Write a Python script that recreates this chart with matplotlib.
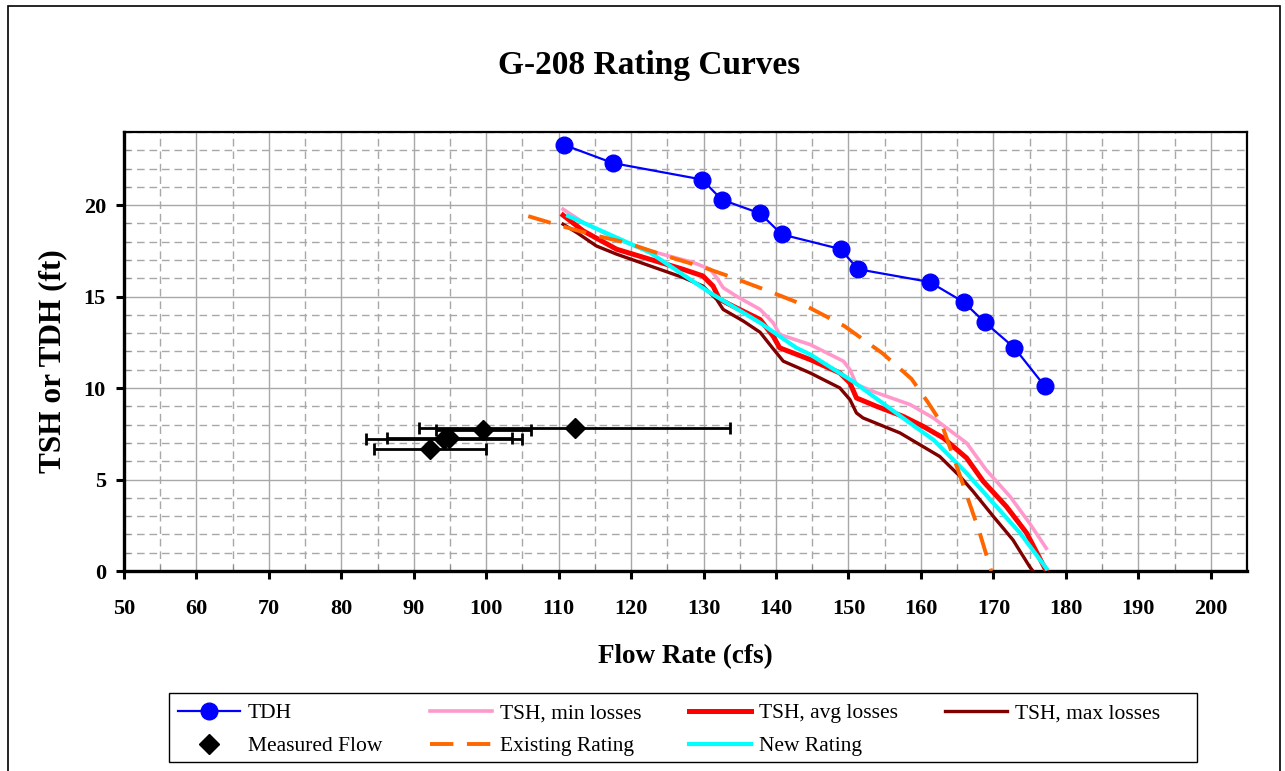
import matplotlib
matplotlib.use("Agg")
import matplotlib.pyplot as plt
from matplotlib.patches import Rectangle
from matplotlib.ticker import MultipleLocator

# TDH (pump total dynamic head), circles
tdh_flow = [110.7, 117.5, 129.8, 132.5, 137.8, 140.8, 148.9, 151.3, 161.2, 165.9, 168.8, 172.9, 177.1]
tdh_head = [23.3, 22.3, 21.4, 20.3, 19.55, 18.4, 17.6, 16.5, 15.8, 14.7, 13.6, 12.2, 10.1]

# TSH curves
min_flow = [110.6, 113.4, 118.0, 122.6, 128.6, 130.9, 131.8, 132.7, 134.5, 137.8, 139.6, 140.5,
            144.7, 149.3, 150.2, 151.1, 153.9, 158.5, 161.7, 166.3, 169.0, 172.3, 175.0, 177.3]
min_head = [19.78, 19.05, 18.14, 17.5, 16.86, 16.5, 16.04, 15.49, 15.03, 14.3, 13.57, 12.93,
            12.38, 11.47, 11.01, 10.19, 9.74, 9.1, 8.37, 7.0, 5.53, 4.07, 2.61, 1.24]

avg_flow = [110.6, 113.4, 118.0, 122.6, 127.2, 129.9, 131.3, 132.2, 134.5, 137.8, 139.6, 140.5,
            144.7, 148.8, 150.2, 151.1, 153.9, 157.5, 160.3, 163.1, 166.3, 168.6, 171.8, 174.6, 177.3]
avg_head = [19.45, 18.59, 17.59, 17.04, 16.49, 16.13, 15.58, 14.85, 14.39, 13.75, 12.84, 12.2,
            11.56, 10.83, 10.28, 9.46, 9.0, 8.46, 7.91, 7.27, 6.18, 4.9, 3.52, 2.07, 0.0]

max_flow = [110.6, 112.5, 115.2, 118.0, 122.6, 127.2, 129.9, 131.8, 132.7, 135.5, 137.8, 139.6,
            141.0, 144.7, 148.8, 150.2, 151.1, 152.0, 157.1, 162.6, 165.4, 167.2, 170.0, 172.7,
            175.0, 176.0]
max_head = [18.96, 18.5, 17.77, 17.32, 16.68, 16.04, 15.58, 14.85, 14.3, 13.66, 13.05, 12.15,
            11.47, 10.83, 10.01, 9.37, 8.64, 8.37, 7.55, 6.26, 5.17, 4.35, 2.98, 1.7,
            0.24, -0.3]

new_flow = [111.3, 122.6, 130.9, 137.8, 142.8, 144.7, 150.6, 157.5, 161.7, 166.3, 170.0, 173.7, 177.3]
new_head = [19.41, 17.41, 15.21, 13.57, 12.2, 11.84, 10.37, 8.37, 7.18, 5.35, 3.71, 2.07, 0.15]

exist_flow = [105.8, 110.0, 115.0, 119.3, 125.0, 130.0, 133.6, 139.0, 144.1, 149.4, 154.7,
              158.7, 161.0, 162.8, 165.4, 168.1, 169.7]
exist_head = [19.4, 18.9, 18.35, 17.95, 17.2, 16.6, 16.1, 15.3, 14.5, 13.4, 11.9,
              10.5, 9.2, 8.1, 5.2, 2.1, 0.0]

# measured flows with uncertainty
meas_flow = [99.6, 112.2, 94.2, 94.9, 92.2]
meas_head = [7.73, 7.82, 7.2, 7.25, 6.68]
meas_err = [6.6, 21.5, 10.8, 8.65, 7.7]

plt.rcParams["font.family"] = ["Liberation Serif", "DejaVu Serif"]

fig = plt.figure(figsize=(12.85, 7.71), dpi=100)
ax = fig.add_axes([0.0965, 0.2594, 0.8739, 0.5694])

ax.plot(tdh_flow, tdh_head, "-o", color="#0000FF", lw=1.6, ms=12, label="TDH", zorder=6)
ax.errorbar(meas_flow, meas_head, xerr=meas_err, fmt="none", ecolor="black",
            elinewidth=2, capsize=4, capthick=2, zorder=6)
ax.plot(meas_flow, meas_head, "D", color="black", ms=10.5, ls="none", label="Measured Flow", zorder=7)
ax.plot(min_flow, min_head, color="#FF99CC", lw=2.6, label="TSH, min losses", zorder=3)
ax.plot(exist_flow, exist_head, color="#FF6600", lw=2.8, dashes=(6, 3.5),
        label="Existing Rating", zorder=5)
ax.plot(avg_flow, avg_head, color="#FF0000", lw=3.6, label="TSH, avg losses", zorder=3)
ax.plot(new_flow, new_head, color="#00FFFF", lw=3.0, label="New Rating", zorder=4)
ax.plot(max_flow, max_head, color="#800000", lw=2.4, label="TSH, max losses", zorder=3)

ax.set_xlim(50, 205)
ax.set_ylim(0, 24)
ax.xaxis.set_major_locator(MultipleLocator(10))
ax.xaxis.set_minor_locator(MultipleLocator(5))
ax.yaxis.set_major_locator(MultipleLocator(5))
ax.yaxis.set_minor_locator(MultipleLocator(1))
ax.set_xticks(range(50, 201, 10))

ax.grid(which="major", color="#a8a8a8", lw=1.0, ls="-")
ax.grid(which="minor", color="#a8a8a8", lw=1.0, ls=(0, (5.5, 3.5)))
ax.set_axisbelow(True)

ax.tick_params(which="major", direction="out", length=6, width=2.2, labelsize=16)
ax.tick_params(axis="x", which="major", pad=14)
ax.tick_params(axis="y", which="major", pad=7)
ax.tick_params(which="minor", direction="in", length=4, width=0.8, color="#888888")
for lab in ax.get_xticklabels() + ax.get_yticklabels():
    lab.set_fontweight("bold")

for side in ["left", "bottom"]:
    ax.spines[side].set_linewidth(2.4)
for side in ["top", "right"]:
    ax.spines[side].set_linewidth(1.6)

ax.set_xlabel("Flow Rate (cfs)", fontsize=19.5, fontweight="bold", labelpad=18)
ax.set_ylabel("TSH or TDH (ft)", fontsize=22.5, fontweight="bold")
ax.yaxis.set_label_coords(-0.051, 0.478)

fig.text(0.505, 0.915, "G-208 Rating Curves", fontsize=24, fontweight="bold",
         ha="center", va="center")

handles, labels = ax.get_legend_handles_labels()
order = ["TDH", "Measured Flow", "TSH, min losses", "Existing Rating",
         "TSH, avg losses", "New Rating", "TSH, max losses"]
h_sorted = [handles[labels.index(name)] for name in order]
leg = fig.legend(h_sorted, order, ncol=4, loc="lower left",
                 bbox_to_anchor=(0.1318, 0.0078, 0.7776, 0.0895), mode="expand",
                 fontsize=15.5, frameon=False,
                 handlelength=2.9, handletextpad=0.35, labelspacing=0.6,
                 borderpad=0.4, borderaxespad=0.0)

# legend box is wider than its entries on the right
fig.patches.append(Rectangle((169 / 1285, 1 - 762 / 771), 1028 / 1285, 69 / 771,
                             transform=fig.transFigure, fill=False,
                             edgecolor="black", lw=1.0))

fig.patches.append(Rectangle((8 / 1285, -0.01), 1272 / 1285, 1 - 6 / 771 + 0.01,
                             transform=fig.transFigure, fill=False,
                             edgecolor="black", lw=1.2))

fig.savefig("out.png", dpi=100)
